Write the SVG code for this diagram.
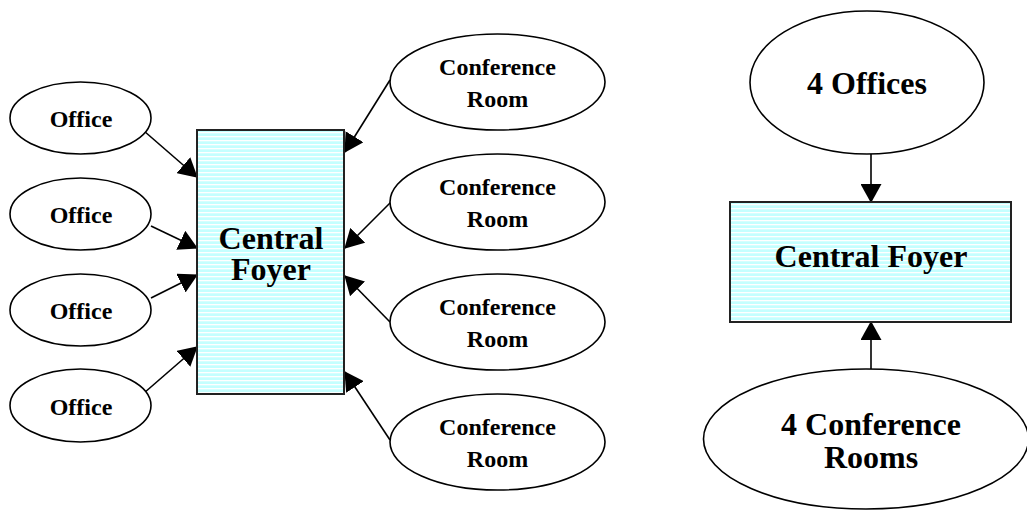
<svg xmlns="http://www.w3.org/2000/svg" width="1027" height="510" viewBox="0 0 1027 510">
<style>
.ell{fill:#fff;stroke:#000;stroke-width:1.6}
.box{fill:url(#stripes);stroke:#222;stroke-width:2}
.t{font-family:"Liberation Serif","Times New Roman",serif;font-weight:bold;fill:#000;text-anchor:middle}
.s{font-size:24px}
.l{font-size:32px}
.c{stroke:#000;stroke-width:1.6;fill:none;marker-end:url(#ah)}
</style>
<defs>
<pattern id="stripes" patternUnits="userSpaceOnUse" width="8" height="4">
<rect width="8" height="4" fill="#c4ffff"/>
<rect y="0" width="8" height="1.3" fill="#ffffff"/>
</pattern>
<marker id="ah" viewBox="0 0 19 21" refX="18" refY="10.5" markerWidth="19" markerHeight="21" markerUnits="userSpaceOnUse" orient="auto">
<path d="M0,0 L19,10.5 L0,21 Z" fill="#000"/>
</marker>
</defs>
<rect width="1027" height="510" fill="#fff"/>
<g id="connectors">
<line class="c" x1="144" y1="131" x2="197" y2="177"/>
<line class="c" x1="151" y1="226" x2="197" y2="248"/>
<line class="c" x1="151" y1="298" x2="197" y2="275"/>
<line class="c" x1="144" y1="393" x2="197" y2="347"/>
<line class="c" x1="390" y1="80" x2="345" y2="152"/>
<line class="c" x1="391" y1="202" x2="345" y2="248"/>
<line class="c" x1="390" y1="322" x2="345" y2="276"/>
<line class="c" x1="390" y1="440" x2="345" y2="372"/>
<line class="c" x1="871" y1="154" x2="871" y2="202"/>
<line class="c" x1="871" y1="369" x2="871" y2="322"/>
</g>
<g id="office1"><ellipse class="ell" cx="80.5" cy="118" rx="70.5" ry="36"/><text class="t s" x="81" y="127">Office</text></g>
<g id="office2"><ellipse class="ell" cx="80.5" cy="214" rx="70.5" ry="36"/><text class="t s" x="81" y="223">Office</text></g>
<g id="office3"><ellipse class="ell" cx="80.5" cy="310" rx="70.5" ry="36"/><text class="t s" x="81" y="319">Office</text></g>
<g id="office4"><ellipse class="ell" cx="80.5" cy="405.5" rx="70.5" ry="36.5"/><text class="t s" x="81" y="414.5">Office</text></g>
<g id="foyer1"><rect class="box" x="197" y="130" width="147" height="264"/><text class="t l" x="271" y="249">Central</text><text class="t l" x="271" y="280">Foyer</text></g>
<g id="conf1"><ellipse class="ell" cx="497.5" cy="82" rx="107.5" ry="48"/><text class="t s" x="497.5" y="75">Conference</text><text class="t s" x="497.5" y="107">Room</text></g>
<g id="conf2"><ellipse class="ell" cx="497.5" cy="202" rx="107.5" ry="48"/><text class="t s" x="497.5" y="195">Conference</text><text class="t s" x="497.5" y="227">Room</text></g>
<g id="conf3"><ellipse class="ell" cx="497.5" cy="322" rx="107.5" ry="48"/><text class="t s" x="497.5" y="315">Conference</text><text class="t s" x="497.5" y="347">Room</text></g>
<g id="conf4"><ellipse class="ell" cx="497.5" cy="442" rx="107.5" ry="48"/><text class="t s" x="497.5" y="435">Conference</text><text class="t s" x="497.5" y="467">Room</text></g>
<g id="offices4"><ellipse class="ell" cx="867" cy="82.5" rx="117" ry="71.5"/><text class="t l" x="867" y="93.5">4 Offices</text></g>
<g id="foyer2"><rect class="box" x="730" y="202" width="281" height="120"/><text class="t l" x="871" y="267">Central Foyer</text></g>
<g id="confs4"><ellipse class="ell" cx="866" cy="439" rx="162.5" ry="70"/><text class="t l" x="871" y="435">4 Conference</text><text class="t l" x="871" y="468">Rooms</text></g>
</svg>
